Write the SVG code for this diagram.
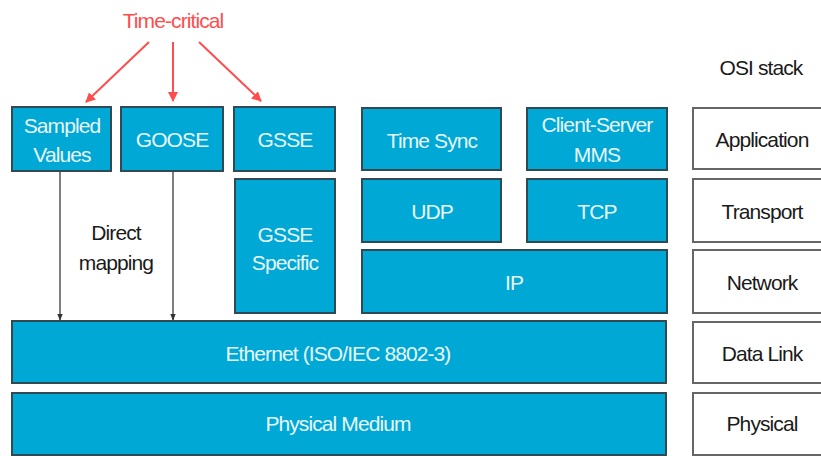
<svg xmlns="http://www.w3.org/2000/svg" width="821" height="456" viewBox="0 0 821 456">
<defs>
<style>
.b{fill:#00a8d6;stroke:#2f4a55;stroke-width:2}
.o{fill:#ffffff;stroke:#666;stroke-width:2}
.t{font-family:"Liberation Sans",Arial,sans-serif;font-size:21px;text-anchor:middle;letter-spacing:-0.9px}
.w{fill:#e8f6fb}
.k{fill:#1a1a1a}
.red{stroke:#ff4d4d;stroke-width:2;fill:none}
.blk{stroke:#555;stroke-width:1.5;fill:none}
</style>
<marker id="ar" viewBox="0 0 10 10" refX="9" refY="5" markerWidth="10" markerHeight="10" orient="auto" markerUnits="userSpaceOnUse"><path d="M0,0 L10,5 L0,10 z" fill="#ff4d4d"/></marker>
<marker id="ak" viewBox="0 0 10 10" refX="9" refY="5" markerWidth="7" markerHeight="7" orient="auto" markerUnits="userSpaceOnUse"><path d="M0,1 L10,5 L0,9 z" fill="#333"/></marker>
</defs>
<rect width="821" height="456" fill="#ffffff"/>
<text class="t" x="173" y="28" fill="#ff4d4d">Time-critical</text>
<text class="t k" x="761" y="75">OSI stack</text>
<g id="connectors">
<line class="red" x1="149" y1="42" x2="86" y2="102" marker-end="url(#ar)"/>
<line class="red" x1="173" y1="42" x2="173" y2="101" marker-end="url(#ar)"/>
<line class="red" x1="199" y1="42" x2="261" y2="101" marker-end="url(#ar)"/>
<line class="blk" x1="60" y1="171" x2="60" y2="320" marker-end="url(#ak)"/>
<line class="blk" x1="173" y1="171" x2="173" y2="320" marker-end="url(#ak)"/>
</g>
<text class="t k" x="116" y="240">Direct</text>
<text class="t k" x="116" y="270">mapping</text>
<g id="sv"><rect class="b" x="12" y="107" width="99" height="64"/><text class="t w" x="62" y="133">Sampled</text><text class="t w" x="62" y="162">Values</text></g>
<g id="goose"><rect class="b" x="121" y="107" width="102" height="64"/><text class="t w" x="172" y="147">GOOSE</text></g>
<g id="gsse"><rect class="b" x="234" y="107" width="101" height="64"/><text class="t w" x="285" y="147">GSSE</text></g>
<g id="gsse-specific"><rect class="b" x="235" y="179" width="100" height="134"/><text class="t w" x="285" y="242">GSSE</text><text class="t w" x="285" y="270">Specific</text></g>
<g id="timesync"><rect class="b" x="362" y="108" width="139" height="62"/><text class="t w" x="432" y="148">Time Sync</text></g>
<g id="mms"><rect class="b" x="527" y="108" width="140" height="62"/><text class="t w" x="597" y="132">Client-Server</text><text class="t w" x="597" y="162">MMS</text></g>
<g id="udp"><rect class="b" x="362" y="179" width="139" height="63"/><text class="t w" x="432" y="219">UDP</text></g>
<g id="tcp"><rect class="b" x="527" y="179" width="140" height="63"/><text class="t w" x="597" y="219">TCP</text></g>
<g id="ip"><rect class="b" x="362" y="250" width="305" height="63"/><text class="t w" x="514" y="290">IP</text></g>
<g id="ethernet"><rect class="b" x="12" y="321" width="654" height="62"/><text class="t w" x="338" y="361">Ethernet (ISO/IEC 8802-3)</text></g>
<g id="physical-medium"><rect class="b" x="12" y="393" width="654" height="62"/><text class="t w" x="338" y="431">Physical Medium</text></g>
<g id="osi-application"><rect class="o" x="693" y="108" width="140" height="61"/><text class="t k" x="762" y="147">Application</text></g>
<g id="osi-transport"><rect class="o" x="693" y="179" width="140" height="63"/><text class="t k" x="762" y="219">Transport</text></g>
<g id="osi-network"><rect class="o" x="693" y="250" width="140" height="63"/><text class="t k" x="762" y="290">Network</text></g>
<g id="osi-datalink"><rect class="o" x="693" y="322" width="140" height="61"/><text class="t k" x="762" y="361">Data Link</text></g>
<g id="osi-physical"><rect class="o" x="693" y="393" width="140" height="62"/><text class="t k" x="762" y="431">Physical</text></g>
</svg>
